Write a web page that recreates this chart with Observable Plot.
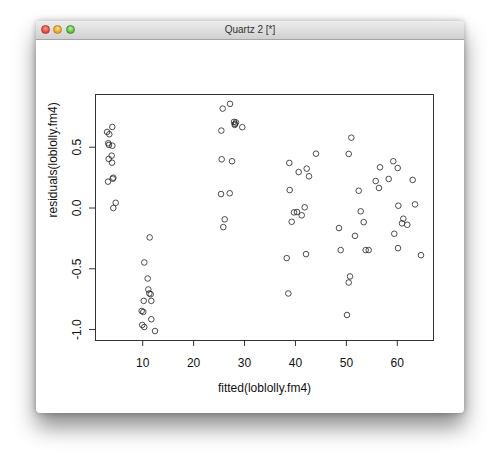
<!DOCTYPE html>
<html><head><meta charset="utf-8">
<script src="https://cdn.jsdelivr.net/npm/d3@7"></script>
<script src="https://cdn.jsdelivr.net/npm/@observablehq/plot@0.6"></script>
<style>
html,body{margin:0;padding:0;background:#fff;width:500px;height:464px;overflow:hidden;font-family:"Liberation Sans",Arial,sans-serif}
#win{position:absolute;left:36px;top:21px;width:428px;height:392px;background:#fff;border-radius:4px;box-shadow:0 14px 22px rgba(0,0,0,0.45),0 0 6px rgba(0,0,0,0.3)}
#bar{height:19px;border-radius:4px 4px 0 0;background:linear-gradient(#ededed,#d0d0d0);border-bottom:1px solid #a5a5a5;position:relative;box-sizing:border-box}
#bar .t{position:absolute;left:0;right:0;top:3px;text-align:center;font-size:10px;color:#333;line-height:12px}
#bar .l{position:absolute;top:4px;width:9px;height:9px;border-radius:50%;box-sizing:border-box}
#chart svg{display:block}
</style></head>
<body>
<div id="win">
  <div id="bar">
    <div class="l" style="left:4.5px;background:radial-gradient(circle at 50% 35%,#ff9a8f,#e0443a 70%);border:1px solid #b0342c"></div>
    <div class="l" style="left:16.8px;background:radial-gradient(circle at 50% 35%,#ffd98a,#e8a325 70%);border:1px solid #b8821e"></div>
    <div class="l" style="left:29.5px;background:radial-gradient(circle at 50% 35%,#b8f29a,#5cb940 70%);border:1px solid #3f8f2c"></div>
    <div class="t">Quartz 2 [*]</div>
  </div>
  <div id="chart"></div>
</div>
<script>
const fitted = [
  4.03, 3.0, 3.44, 3.24, 3.38, 4.03, 3.91, 3.32, 3.97, 4.23, 4.11, 3.19, 4.70, 4.23,
  11.37, 10.31, 10.98, 11.10, 11.30, 11.57, 10.20, 11.69, 9.80, 10.12, 11.69, 9.92, 10.31, 12.42,
  27.15, 25.71, 27.93, 28.13, 28.32, 28.07, 29.56, 25.44, 25.51, 27.54, 25.38, 27.09, 26.10, 25.83,
  44.03, 38.79, 42.21, 40.63, 42.66, 38.87, 41.81, 39.71, 40.30, 41.23, 39.26, 38.28, 42.07, 38.60,
  50.97, 50.46, 52.42, 52.81, 48.55, 53.40, 51.69, 48.88, 53.79, 54.38, 50.71, 50.46, 50.12,
  59.21, 56.60, 60.08, 55.76, 58.31, 63.02, 56.40, 60.20, 63.48, 61.18, 60.92, 61.96, 59.41, 60.14, 64.65
];
const residuals = [
  0.667, 0.626, 0.607, 0.533, 0.519, 0.513, 0.431, 0.404, 0.373, 0.249, 0.241, 0.217, 0.043, 0.000,
  -0.242, -0.448, -0.580, -0.670, -0.703, -0.709, -0.764, -0.764, -0.847, -0.855, -0.915, -0.962, -0.979, -1.012,
  0.857, 0.818, 0.709, 0.692, 0.704, 0.684, 0.665, 0.637, 0.401, 0.385, 0.115, 0.121, -0.093, -0.157,
  0.447, 0.371, 0.324, 0.296, 0.261, 0.148, 0.006, -0.036, -0.033, -0.060, -0.113, -0.412, -0.379, -0.703,
  0.579, 0.445, 0.142, -0.027, -0.165, -0.116, -0.229, -0.346, -0.346, -0.346, -0.563, -0.613, -0.880,
  0.385, 0.335, 0.329, 0.222, 0.239, 0.231, 0.165, 0.019, 0.030, -0.088, -0.126, -0.138, -0.212, -0.330, -0.388
];
const xTicks = [10, 20, 30, 40, 50, 60];
const yTicks = [-1.0, -0.5, 0.0, 0.5];
const xTitle = "fitted(loblolly.fm4)";
const yTitle = "residuals(loblolly.fm4)";

const points = fitted.map((f, i) => ({fitted: f, resid: residuals[i]}));

const chart = Plot.plot({
  width: 428, height: 373,
  marginLeft: 59, marginRight: 31, marginTop: 54, marginBottom: 73,
  style: {fontFamily: "'Liberation Sans', Arial, sans-serif", fontSize: "12px", color: "#111", background: "transparent"},
  x: {domain: [0.73, 67.11]},
  y: {domain: [-1.090, 0.934]},
  marks: [
    Plot.frame({stroke: "#333"}),
    Plot.axisX(xTicks, {tickSize: 6, tickPadding: 12, label: null, stroke: "#333", fill: "#111"}),
    Plot.axisY(yTicks, {tickSize: 6, tickPadding: 9, tickRotate: -90, tickFormat: d => d.toFixed(1), label: null, stroke: "#333", fill: "#111"}),
    Plot.dot(points, {x: "fitted", y: "resid", r: 2.8, stroke: "#222", strokeWidth: 0.8}),
    Plot.text([xTitle], {text: d => d, frameAnchor: "bottom", dy: 51, fill: "#111"}),
    Plot.text([yTitle], {text: d => d, frameAnchor: "left", dx: -42, rotate: -90, fill: "#111"})
  ]
});
document.getElementById("chart").appendChild(chart);
</script>
</body></html>
